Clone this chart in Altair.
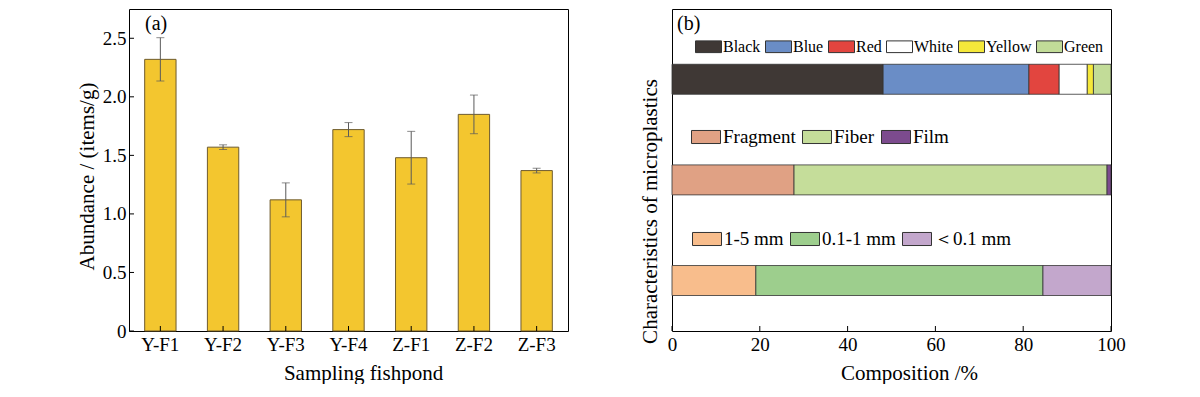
import altair as alt
import pandas as pd

# ---------------- data: panel (a) ----------------
ponds = ["Y-F1", "Y-F2", "Y-F3", "Y-F4", "Z-F1", "Z-F2", "Z-F3"]
abundance = [2.32, 1.57, 1.12, 1.72, 1.48, 1.85, 1.37]
abundance_err = [0.185, 0.02, 0.145, 0.06, 0.225, 0.165, 0.02]
abundance_ticks = [0, 0.5, 1.0, 1.5, 2.0, 2.5]

# ---------------- data: panel (b) ----------------
groups = ["Color", "Shape", "Size"]
comp_ticks = [0, 20, 40, 60, 80, 100]

color_items = ["Black", "Blue", "Red", "White", "Yellow", "Green"]
color_pct = [48.1, 33.2, 6.9, 6.4, 1.4, 4.0]
color_hex = ["#3F3835", "#6A8DC6", "#E2453F", "#FFFFFF", "#F5E83A", "#C2DC98"]

shape_items = ["Fragment", "Fiber", "Film"]
shape_pct = [27.8, 71.3, 0.9]
shape_hex = ["#E0A184", "#C5DD9A", "#7C4B8E"]

size_items = ["1-5 mm", "0.1-1 mm", "＜0.1 mm"]
size_pct = [19.1, 65.4, 15.5]
size_hex = ["#F8BD8C", "#9DCE8D", "#C3A7CC"]

W, H = 439, 322
FONT = "Liberation Serif"

# ---------------- panel (a) ----------------
df_a = pd.DataFrame({"pond": ponds, "Abundance": abundance, "err": abundance_err})
df_a["lo"] = df_a["Abundance"] - df_a["err"]
df_a["hi"] = df_a["Abundance"] + df_a["err"]

yscale_a = alt.Scale(domain=[0, 2.75], nice=False, zero=True)
yaxis_a = alt.Axis(title="Abundance / (items/g)", values=abundance_ticks,
                   labelExpr="datum.value == 0 ? '0' : format(datum.value, '.1f')",
                   ticks=False, domain=False, grid=False, labelPadding=3, labelFlush=False,
                   titlePadding=5, titleY=167)
xscale_a = alt.Scale(domain=ponds, paddingInner=0.5, paddingOuter=0.25)
xaxis_a = alt.Axis(title="Sampling fishpond", labelAngle=0, ticks=False, domain=False,
                   grid=False, labelPadding=4, titlePadding=8, titleX=234)

X_a = alt.X("pond:N", scale=xscale_a, axis=xaxis_a, sort=ponds)

bars_a = alt.Chart(df_a).mark_bar(color="#F3C62F", stroke="#6E5B2E", strokeWidth=1).encode(
    x=X_a, y=alt.Y("Abundance:Q", scale=yscale_a, axis=yaxis_a))
err_a = alt.Chart(df_a).mark_rule(color="#5a5a5a", strokeWidth=1).encode(
    x=X_a, y=alt.Y("lo:Q", scale=yscale_a, axis=yaxis_a), y2="hi:Q")
cap_lo = alt.Chart(df_a).mark_tick(color="#5a5a5a", thickness=1, size=8).encode(
    x=X_a, y=alt.Y("lo:Q", scale=yscale_a, axis=yaxis_a))
cap_hi = alt.Chart(df_a).mark_tick(color="#5a5a5a", thickness=1, size=8).encode(
    x=X_a, y=alt.Y("hi:Q", scale=yscale_a, axis=yaxis_a))
yt_a = alt.Chart(pd.DataFrame({"Abundance": abundance_ticks})).mark_rule(color="black").encode(
    y=alt.Y("Abundance:Q", scale=yscale_a, axis=yaxis_a), x=alt.value(0), x2=alt.value(5))
xt_a = alt.Chart(pd.DataFrame({"pond": ponds})).mark_rule(color="black").encode(
    x=X_a, y=alt.value(H), y2=alt.value(H - 5))
lab_a = alt.Chart(pd.DataFrame({"t": ["(a)"]})).mark_text(
    fontSize=20, align="left", baseline="middle", font=FONT, color="black").encode(
    x=alt.value(16), y=alt.value(15), text="t:N")

panel_a = alt.layer(bars_a, err_a, cap_lo, cap_hi, yt_a, xt_a, lab_a).properties(width=W, height=H)

# ---------------- panel (b) ----------------
xscale_b = alt.Scale(domain=[0, 100], nice=False)
xaxis_b = alt.Axis(title="Composition /%", values=comp_ticks, ticks=False, domain=False,
                   grid=False, labelPadding=4, labelFlush=False, titlePadding=8, titleX=237)
yscale_b = alt.Scale(domain=groups, paddingInner=0.702, paddingOuter=0.451, align=0.609)
yaxis_b = alt.Axis(title="Characteristics of microplastics", labels=False, ticks=False,
                   domain=False, grid=False, titlePadding=12, titleY=202)


def stacked(group, items, pct, hexes, lx, ly, sym_size, font_size, colpad, loff):
    df = pd.DataFrame({"group": [group] * len(items), "item": items, "pct": pct,
                       "idx": list(range(len(items)))})
    legend = alt.Legend(title=None, orient="none", legendX=lx, legendY=ly,
                        direction="horizontal", symbolType="M-1,-0.45H1V0.45H-1Z",
                        symbolSize=sym_size, symbolStrokeColor="#333333", symbolStrokeWidth=1,
                        labelFontSize=font_size, labelFont=FONT, labelColor="black",
                        labelOffset=loff, columnPadding=colpad, padding=0, symbolOpacity=1)
    return alt.Chart(df).mark_bar(stroke="#333333", strokeWidth=0.8).encode(
        x=alt.X("pct:Q", stack="zero", scale=xscale_b, axis=xaxis_b),
        y=alt.Y("group:N", scale=yscale_b, axis=yaxis_b),
        color=alt.Color("item:N", scale=alt.Scale(domain=items, range=hexes), legend=legend),
        order=alt.Order("idx:Q"),
    )


l1 = stacked("Color", color_items, color_pct, color_hex, 23, 24, 676, 16, 2, 1)
l2 = stacked("Shape", shape_items, shape_pct, shape_hex, 19, 113, 841, 19, 4, 2)
l3 = stacked("Size", size_items, size_pct, size_hex, 20, 215, 841, 19, 4, 2)

xt_b = alt.Chart(pd.DataFrame({"pct": comp_ticks})).mark_rule(color="black").encode(
    x=alt.X("pct:Q", scale=xscale_b, axis=xaxis_b), y=alt.value(H), y2=alt.value(H - 5))
lab_b = alt.Chart(pd.DataFrame({"t": ["(b)"]})).mark_text(
    fontSize=20, align="left", baseline="middle", font=FONT, color="black").encode(
    x=alt.value(5), y=alt.value(15), text="t:N")

panel_b = alt.layer(l1, l2, l3, xt_b, lab_b).resolve_scale(color="independent").properties(
    width=W, height=H)

chart = alt.hconcat(panel_a, panel_b, spacing=69).properties(
    padding={"left": 67, "top": 0, "right": 5, "bottom": 0}
).configure_view(stroke="black", strokeWidth=1).configure_axis(
    labelFont=FONT, titleFont=FONT, labelFontSize=19, titleFontSize=21,
    titleFontWeight="normal", labelColor="black", titleColor="black"
).configure_text(font=FONT)

chart.save("out.html", embed_options={"renderer": "svg", "actions": False})
